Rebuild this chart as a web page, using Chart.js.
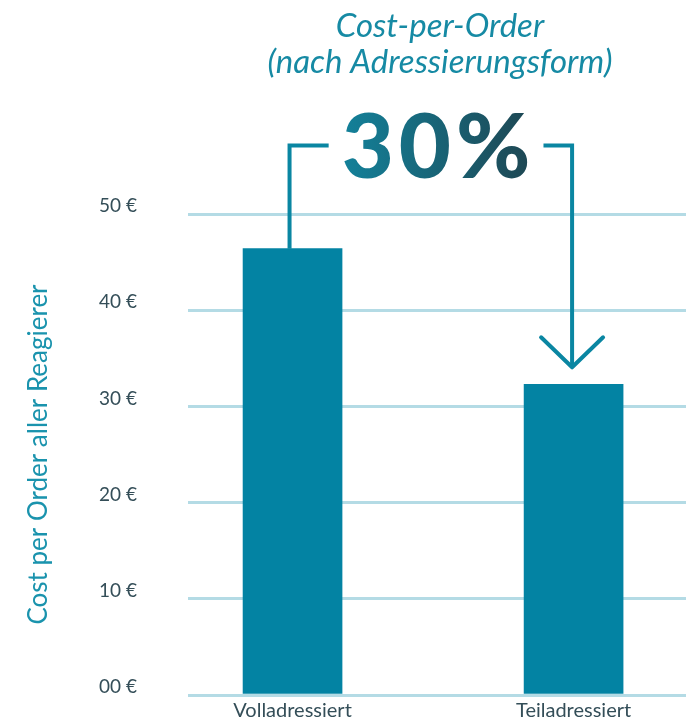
<!DOCTYPE html>
<html>
<head>
<meta charset="utf-8">
<script src="https://cdn.jsdelivr.net/npm/chart.js@4.4.1/dist/chart.umd.min.js"></script>
<style>
  html, body { margin: 0; padding: 0; background: #fff; overflow: hidden; }
  canvas { display: block; }
</style>
</head>
<body>
<canvas id="chart" width="691" height="719"></canvas>
<script>
// chart data
let categories = ["Volladressiert", "Teiladressiert"];
let categoryPositions = [0, 1];
let costValues = [46.4, 32.3];
let yTickLabels = ["00 €", "10 €", "20 €", "30 €", "40 €", "50 €"];
let titleLines = ["Cost-per-Order", "(nach Adressierungsform)"];
let yAxisTitle = "Cost per Order aller Reagierer";
let savingLabel = "30%";

let barColor = "#0383a3";
let gridColor = "#b4dbe5";
let tickColor = "#344e58";

// draws the title, the big percentage and the bracket arrow between the bars
const annotate = {
  id: "annotate",
  afterDraw(chart) {
    let ctx = chart.ctx;
    let bars = chart.getDatasetMeta(0).data;
    let b0 = bars[0], b1 = bars[1];
    ctx.save();

    // title
    ctx.fillStyle = "#168aa4";
    ctx.font = "italic 33px Lato";
    ctx.textAlign = "center";
    ctx.textBaseline = "alphabetic";
    titleLines.forEach((t, i) => ctx.fillText(t, 440, 37 + i * 36));

    // big percentage with gradient
    ctx.font = "900 90px Lato";
    ctx.letterSpacing = "5px";
    ctx.textAlign = "left";
    let mid = (b0.x + b1.x) / 2 + 3;
    let w = ctx.measureText(savingLabel).width - 5;
    let grad = ctx.createLinearGradient(mid - w / 2, 0, mid + w / 2, 0);
    grad.addColorStop(0, "#13819a");
    grad.addColorStop(1, "#1e4753");
    ctx.fillStyle = grad;
    ctx.fillText(savingLabel, mid - w / 2, 178);
    ctx.letterSpacing = "0px";

    // bracket lines
    let yb = 145.5;
    let xl = b0.x - 3;
    let xr = b1.x - 1.5;
    let tip = b1.y - 17;
    ctx.strokeStyle = "#0a86a2";
    ctx.lineWidth = 4;
    ctx.lineJoin = "miter";
    ctx.beginPath();
    ctx.moveTo(xl, b0.y);
    ctx.lineTo(xl, yb);
    ctx.lineTo(mid - w / 2 - 13, yb);
    ctx.moveTo(mid + w / 2 + 13, yb);
    ctx.lineTo(xr, yb);
    ctx.lineTo(xr, tip);
    ctx.stroke();

    // arrow head
    ctx.lineCap = "round";
    ctx.lineJoin = "round";
    ctx.beginPath();
    ctx.moveTo(xr - 31, tip - 30);
    ctx.lineTo(xr, tip);
    ctx.lineTo(xr + 31, tip - 30);
    ctx.stroke();
    ctx.restore();
  }
};

let ctx = document.getElementById("chart").getContext("2d");
let costChart = new Chart(ctx, {
  type: "bar",
  data: {
    datasets: [
      {
        data: costValues.map((v, i) => ({ x: categoryPositions[i], y: v })),
        backgroundColor: barColor,
        borderWidth: 0,
        barThickness: 99,
      },
    ],
  },
  options: {
    responsive: false,
    animation: false,
    layout: { padding: { top: 214, right: 5, left: 0, bottom: 0 } },
    plugins: {
      legend: { display: false },
      tooltip: { enabled: false },
    },
    scales: {
      x: {
        type: "linear",
        offset: false,
        min: -0.372,
        max: 1.4,
        grid: { display: false, drawTicks: false },
        border: { display: false },
        afterBuildTicks(scale) {
          scale.ticks = categoryPositions.map((v) => ({ value: v }));
        },
        afterFit(scale) {
          scale.height = 24;
        },
        ticks: {
          padding: 4,
          maxRotation: 0,
          autoSkip: false,
          color: tickColor,
          font: { family: "Lato", size: 20 },
          callback: (v) => categories[categoryPositions.indexOf(v)],
        },
      },
      y: {
        min: 0,
        max: 50,
        grid: {
          color: gridColor,
          lineWidth: 3,
          drawTicks: true,
          tickLength: 51,
          tickColor: "rgba(0,0,0,0)",
        },
        border: { display: false },
        afterFit(scale) {
          scale.width = 188;
        },
        ticks: {
          stepSize: 10,
          padding: 0,
          labelOffset: -8,
          color: tickColor,
          font: { family: "Lato", size: 19 },
          callback: (v, i) => yTickLabels[i],
        },
        title: {
          display: true,
          text: yAxisTitle,
          color: "#1a93ad",
          font: { family: "Lato", size: 26 },
          padding: { top: 23 },
        },
      },
    },
  },
  plugins: [annotate],
});
</script>
</body>
</html>
